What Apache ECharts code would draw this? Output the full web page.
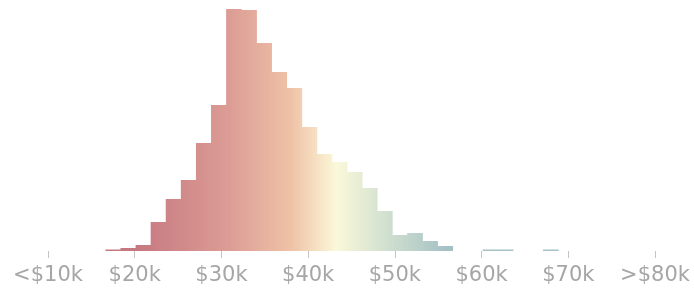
<!DOCTYPE html>
<html>
<head>
<meta charset="utf-8">
<script src="https://cdn.jsdelivr.net/npm/echarts@6/dist/echarts.min.js"></script>
<style>
  html, body { margin: 0; padding: 0; background: #fff; }
  #salaryHist { width: 694px; height: 293px; }
</style>
</head>
<body>
<div id="salaryHist"></div>
<script>
// salary bins, in $k
var binStart = 16.62;
var binWidth = 1.74;
var counts = [1.5, 3, 6, 29, 52, 71, 108, 146, 242, 241, 208, 179, 163, 124, 97, 89, 79, 63, 40, 16, 18, 10, 5, 0, 0, 1.5, 1.5, 0, 0, 1.5];
var tickValues = [10, 20, 30, 40, 50, 60, 70, 80];
var tickLabels = ['<$10k', '$20k', '$30k', '$40k', '$50k', '$60k', '$70k', '>$80k'];

// gradient runs across the main body of the histogram
var gradFrom = 20.1;
var gradTo = 55.98;
var gradStops = [
    { offset: 0, color: '#c67880' },
    { offset: 0.3, color: '#dc9c95' },
    { offset: 0.5, color: '#efc2a6' },
    { offset: 0.645, color: '#fbf8d9' },
    { offset: 0.8, color: '#d2e1d0' },
    { offset: 1, color: '#a5c1c5' }
];

var histData = [];
for (var i = 0; i < counts.length; i++) {
    if (counts[i] <= 0) continue;
    var s = binStart + i * binWidth;
    histData.push([s, s + binWidth, counts[i]]);
}

function renderBin(params, api) {
    var top = api.coord([api.value(0), api.value(2)]);
    var bottom = api.coord([api.value(1), 0]);
    var g0 = api.coord([gradFrom, 0])[0];
    var g1 = api.coord([gradTo, 0])[0];
    // a little overlap so neighbouring bins don't show a seam
    return {
        type: 'rect',
        shape: { x: top[0], y: top[1], width: bottom[0] - top[0] + 0.6, height: bottom[1] - top[1] },
        style: { fill: new echarts.graphic.LinearGradient(g0, 0, g1, 0, gradStops, true) }
    };
}

var salaryHist = echarts.init(document.getElementById('salaryHist'));
var salaryHist_option = {
    animation: false,
    grid: { left: 48, right: 39, top: 1, bottom: 42 },
    xAxis: {
        type: 'value',
        min: 10,
        max: 80,
        interval: 10,
        offset: 2,
        splitLine: { show: false },
        axisLine: { show: false },
        axisTick: { show: true, length: 7, lineStyle: { color: '#c4c4c4', width: 1 } },
        axisLabel: {
            margin: 12,
            color: '#a6a6a6',
            fontSize: 21,
            fontFamily: 'DejaVu Sans',
            showMinLabel: true,
            showMaxLabel: true,
            formatter: function (v) {
                var k = tickValues.indexOf(v);
                return k >= 0 ? tickLabels[k] : '';
            }
        }
    },
    yAxis: { type: 'value', min: 0, max: 250, show: false },
    series: [{
        type: 'custom',
        renderItem: renderBin,
        encode: { x: [0, 1], y: 2 },
        data: histData
    }]
};
salaryHist.setOption(salaryHist_option);
</script>
</body>
</html>
